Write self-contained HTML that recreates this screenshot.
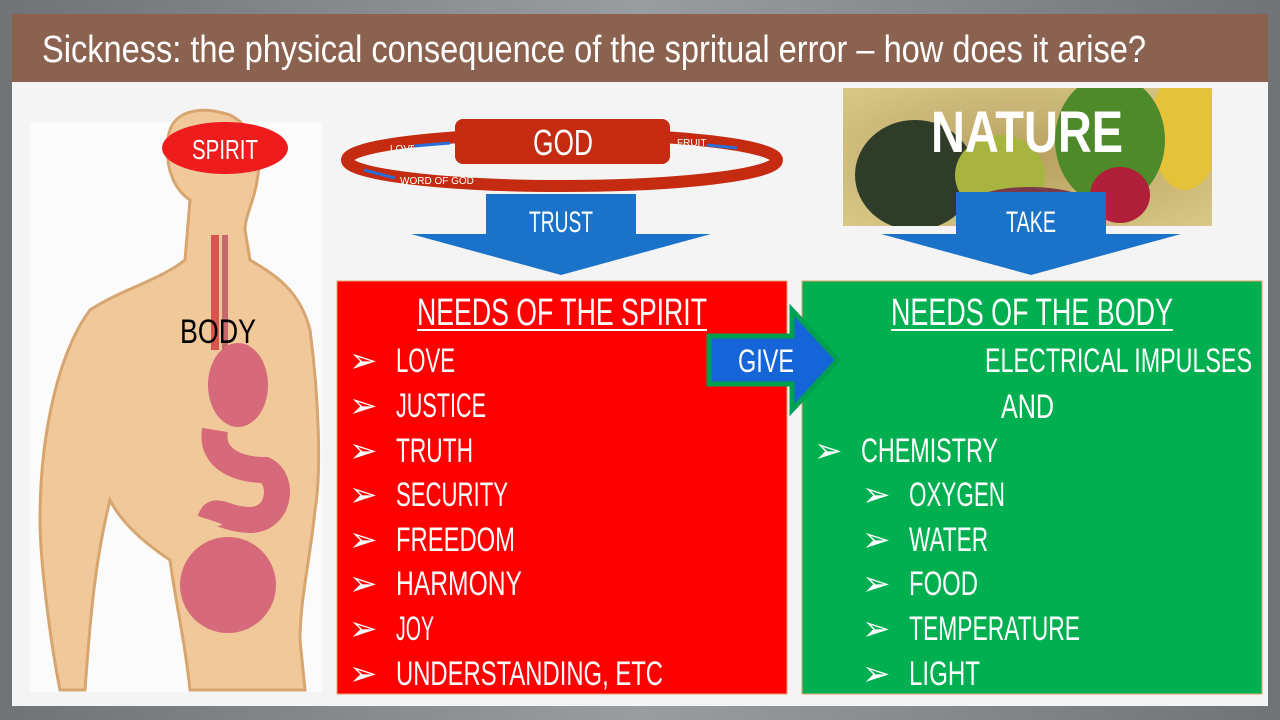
<!DOCTYPE html>
<html><head><meta charset="utf-8"><style>
html,body{margin:0;padding:0;width:1280px;height:720px;overflow:hidden;background:#7a7d80}
svg{display:block}
text{font-family:"Liberation Sans Narrow","Liberation Sans",sans-serif}
</style></head><body>
<svg width="1280" height="720" viewBox="0 0 1280 720" xmlns="http://www.w3.org/2000/svg">
<defs>
<linearGradient id="bg" x1="0" y1="0" x2="1" y2="0"><stop offset="0" stop-color="#6f7376"/><stop offset="0.5" stop-color="#9a9da0"/><stop offset="1" stop-color="#6f7376"/></linearGradient>
<radialGradient id="fr" cx="0.5" cy="0.5" r="0.7"><stop offset="0" stop-color="#b8a060"/><stop offset="1" stop-color="#d8c888"/></radialGradient>
<clipPath id="fc"><rect x="843" y="88" width="369" height="138"/></clipPath>
</defs>
<rect width="1280" height="720" fill="url(#bg)"/>
<rect x="12" y="82" width="1256" height="624" fill="#f4f4f4"/>
<rect x="12" y="14" width="1256" height="68" fill="#8b614f"/>
<text x="42" y="62" font-size="38" fill="#fff" textLength="1104" lengthAdjust="spacingAndGlyphs">Sickness: the physical consequence of the spritual error – how does it arise?</text>

<!-- body figure -->
<rect x="30" y="122" width="292" height="570" fill="#fbfbfb"/>
<g fill="#f0c89a" stroke="#d7a56f" stroke-width="3">
<path d="M190 690 C185 640 175 600 170 560 C140 540 120 520 110 500 C95 560 90 620 85 690 L60 690 C50 640 40 560 40 520 C40 430 60 350 90 310 C120 290 160 280 185 260 L190 200 C175 190 165 170 168 140 C170 110 200 105 230 115 C250 125 262 150 258 175 C255 200 245 215 245 230 L250 260 C275 275 300 290 310 330 C318 390 322 470 315 510 C310 560 300 600 300 640 L305 690 Z"/>
</g>
<ellipse cx="225" cy="148" rx="63" ry="26" fill="#ee1c1c"/>
<text x="225" y="159" font-size="28" fill="#fff" text-anchor="middle" textLength="66" lengthAdjust="spacingAndGlyphs">SPIRIT</text>
<path d="M215 235 L215 350" stroke="#d9534f" stroke-width="8" fill="none"/>
<path d="M225 235 L225 350" stroke="#c9676f" stroke-width="6" fill="none"/>
<ellipse cx="238" cy="385" rx="30" ry="42" fill="#d66a7a"/>
<path d="M215 430 C210 460 240 470 265 470 C285 480 280 520 250 520 C225 520 215 505 210 520" stroke="#d66a7a" stroke-width="26" fill="none"/>
<ellipse cx="228" cy="585" rx="48" ry="48" fill="#d66a7a"/>
<text x="218" y="343" font-size="34" fill="#000" text-anchor="middle" textLength="76" lengthAdjust="spacingAndGlyphs">BODY</text>

<!-- GOD ring -->
<ellipse cx="562" cy="160" rx="215" ry="26" fill="none" stroke="#c42b10" stroke-width="12"/>
<rect x="455" y="119" width="215" height="45" rx="8" fill="#c42b10"/>
<text x="563" y="155" font-size="36" fill="#fff" text-anchor="middle" textLength="60" lengthAdjust="spacingAndGlyphs">GOD</text>
<text x="390" y="152" font-size="10" fill="#fff">LOVE</text>
<text x="677" y="146" font-size="10" fill="#fff">FRUIT</text>
<text x="400" y="184" font-size="10" fill="#fff">WORD OF GOD</text>
<path d="M414 146 L450 143" stroke="#2a6fd6" stroke-width="3"/>
<path d="M707 145 L737 148" stroke="#2a6fd6" stroke-width="3"/>
<path d="M364 170 L395 178" stroke="#2a6fd6" stroke-width="3"/>
<!-- TRUST arrow -->
<path d="M486 194 L636 194 L636 234 L711 234 L561 275 L411 234 L486 234 Z" fill="#1a73c9"/>
<text x="561" y="232" font-size="30" fill="#fff" text-anchor="middle" textLength="64" lengthAdjust="spacingAndGlyphs">TRUST</text>

<!-- NATURE image -->
<rect x="843" y="88" width="369" height="138" fill="url(#fr)"/>
<g clip-path="url(#fc)">
<ellipse cx="1185" cy="130" rx="35" ry="60" fill="#e4c23a"/>
<ellipse cx="1110" cy="140" rx="55" ry="65" fill="#4f8a2a"/>
<ellipse cx="915" cy="175" rx="60" ry="55" fill="#2f3d28"/>
<ellipse cx="1000" cy="175" rx="45" ry="40" fill="#a8b440"/>
<ellipse cx="1030" cy="205" rx="60" ry="18" fill="#7a3a48"/>
<ellipse cx="1120" cy="195" rx="30" ry="28" fill="#b0203a"/>
</g>
<text x="1027" y="152" font-size="58" font-weight="bold" fill="#fff" text-anchor="middle" textLength="192" lengthAdjust="spacingAndGlyphs">NATURE</text>
<!-- TAKE arrow -->
<path d="M956 192 L1106 192 L1106 234 L1181 234 L1031 275 L881 234 L956 234 Z" fill="#1a73c9"/>
<text x="1031" y="232" font-size="30" fill="#fff" text-anchor="middle" textLength="50" lengthAdjust="spacingAndGlyphs">TAKE</text>

<!-- red box -->
<rect x="337" y="281" width="450" height="413" fill="#ff0000" stroke="#e8a070" stroke-width="1"/>
<text x="562" y="325" font-size="38" fill="#fff" text-anchor="middle" textLength="290" lengthAdjust="spacingAndGlyphs">NEEDS OF THE SPIRIT</text>
<rect x="417" y="329" width="290" height="2" fill="#fff"/>
<g font-size="34" fill="#fff">
<text x="349" y="372">➢</text><text x="396" y="372" textLength="59" lengthAdjust="spacingAndGlyphs">LOVE</text>
<text x="349" y="417">➢</text><text x="396" y="417" textLength="90" lengthAdjust="spacingAndGlyphs">JUSTICE</text>
<text x="349" y="462">➢</text><text x="396" y="462" textLength="77" lengthAdjust="spacingAndGlyphs">TRUTH</text>
<text x="349" y="506">➢</text><text x="396" y="506" textLength="112" lengthAdjust="spacingAndGlyphs">SECURITY</text>
<text x="349" y="551">➢</text><text x="396" y="551" textLength="119" lengthAdjust="spacingAndGlyphs">FREEDOM</text>
<text x="349" y="595">➢</text><text x="396" y="595" textLength="126" lengthAdjust="spacingAndGlyphs">HARMONY</text>
<text x="349" y="640">➢</text><text x="396" y="640" textLength="38" lengthAdjust="spacingAndGlyphs">JOY</text>
<text x="349" y="685">➢</text><text x="396" y="685" textLength="267" lengthAdjust="spacingAndGlyphs">UNDERSTANDING, ETC</text>
</g>

<!-- green box -->
<rect x="802" y="281" width="460" height="413" fill="#00b050" stroke="#e8a070" stroke-width="1"/>
<text x="1032" y="325" font-size="38" fill="#fff" text-anchor="middle" textLength="282" lengthAdjust="spacingAndGlyphs">NEEDS OF THE BODY</text>
<rect x="891" y="329" width="282" height="2" fill="#fff"/>
<g font-size="34" fill="#fff">
<text x="985" y="372" textLength="267" lengthAdjust="spacingAndGlyphs">ELECTRICAL IMPULSES</text>
<text x="1001" y="418" textLength="53" lengthAdjust="spacingAndGlyphs">AND</text>
<text x="814" y="462">➢</text><text x="861" y="462" textLength="137" lengthAdjust="spacingAndGlyphs">CHEMISTRY</text>
<text x="862" y="506">➢</text><text x="909" y="506" textLength="96" lengthAdjust="spacingAndGlyphs">OXYGEN</text>
<text x="862" y="551">➢</text><text x="909" y="551" textLength="79" lengthAdjust="spacingAndGlyphs">WATER</text>
<text x="862" y="595">➢</text><text x="909" y="595" textLength="69" lengthAdjust="spacingAndGlyphs">FOOD</text>
<text x="862" y="640">➢</text><text x="909" y="640" textLength="171" lengthAdjust="spacingAndGlyphs">TEMPERATURE</text>
<text x="862" y="685">➢</text><text x="909" y="685" textLength="71" lengthAdjust="spacingAndGlyphs">LIGHT</text>
</g>

<!-- GIVE arrow -->
<path d="M709 336 L792 336 L792 310 L838 360 L792 410 L792 384 L709 384 Z" fill="#1565d8" stroke="#00a050" stroke-width="5"/>
<text x="766" y="372" font-size="32" fill="#fff" text-anchor="middle" textLength="56" lengthAdjust="spacingAndGlyphs">GIVE</text>
</svg>
</body></html>
